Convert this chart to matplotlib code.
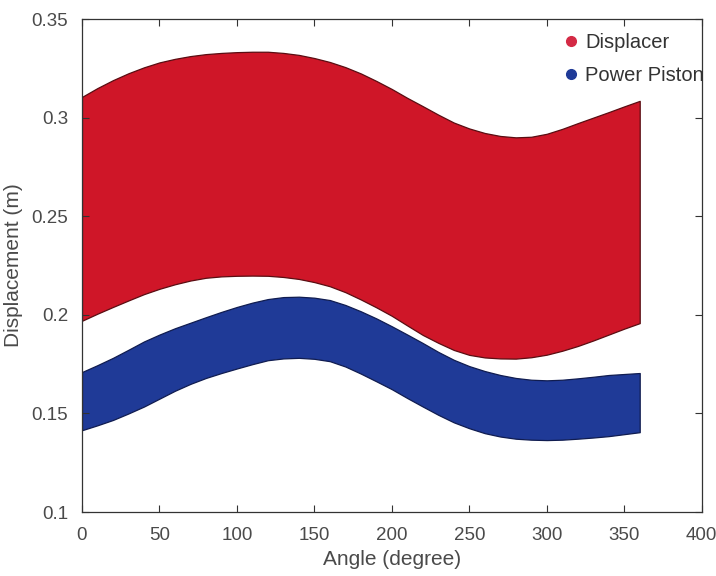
#Displacer and power piston displacement bands versus crank angle

import matplotlib.pyplot as plt
from matplotlib.lines import Line2D

plt.rcParams['font.family'] = ['Liberation Sans', 'DejaVu Sans']

angle = [0, 10, 20, 30, 40, 50, 60, 70, 80, 90, 100, 110, 120, 130, 140, 150, 160, 170, 180,
         190, 200, 210, 220, 230, 240, 250, 260, 270, 280, 290, 300, 310, 320, 330, 340, 350, 360]

#Displacer band (m)
displacerTop = [0.3105, 0.3150, 0.3190, 0.3225, 0.3255, 0.3280, 0.3298, 0.3312, 0.3322, 0.3328,
                0.3332, 0.3334, 0.3334, 0.3328, 0.3318, 0.3302, 0.3282, 0.3256, 0.3224,
                0.3186, 0.3145, 0.3100, 0.3058, 0.3015, 0.2975, 0.2945, 0.2922, 0.2907, 0.2900,
                0.2903, 0.2918, 0.2943, 0.2972, 0.3000, 0.3028, 0.3057, 0.3085]
displacerBottom = [0.1970, 0.2006, 0.2040, 0.2073, 0.2105, 0.2132, 0.2155, 0.2174, 0.2188, 0.2195,
                   0.2198, 0.2199, 0.2198, 0.2192, 0.2182, 0.2166, 0.2145, 0.2115, 0.2078,
                   0.2038, 0.1995, 0.1946, 0.1898, 0.1858, 0.1822, 0.1797, 0.1784, 0.1779, 0.1778,
                   0.1785, 0.1798, 0.1818, 0.1842, 0.1870, 0.1900, 0.1930, 0.1958]

#Power piston band (m)
pistonTop = [0.1710, 0.1745, 0.1782, 0.1823, 0.1865, 0.1900, 0.1932, 0.1960, 0.1988, 0.2015,
             0.2040, 0.2062, 0.2080, 0.2090, 0.2092, 0.2087, 0.2075, 0.2050, 0.2018,
             0.1982, 0.1942, 0.1900, 0.1857, 0.1812, 0.1772, 0.1740, 0.1715, 0.1695, 0.1680,
             0.1671, 0.1668, 0.1671, 0.1678, 0.1686, 0.1695, 0.1700, 0.1705]
pistonBottom = [0.1415, 0.1440, 0.1467, 0.1500, 0.1535, 0.1575, 0.1615, 0.1650, 0.1680, 0.1705,
                0.1728, 0.1750, 0.1770, 0.1779, 0.1782, 0.1777, 0.1765, 0.1738, 0.1702,
                0.1663, 0.1623, 0.1578, 0.1535, 0.1493, 0.1455, 0.1425, 0.1400, 0.1383, 0.1372,
                0.1367, 0.1365, 0.1367, 0.1372, 0.1378, 0.1385, 0.1395, 0.1405]

xTicks = [0, 50, 100, 150, 200, 250, 300, 350, 400]
yTicks = [0.1, 0.15, 0.2, 0.25, 0.3, 0.35]
yTickLabels = ['0.1', '0.15', '0.2', '0.25', '0.3', '0.35']
seriesNames = ['Displacer', 'Power Piston']

redFill = '#cf1628'
blueFill = '#1f3a97'
textColor = '#4a4a4a'

fig = plt.figure(figsize=(7.16, 5.76), dpi=100)
ax = fig.add_axes([0.1145, 0.111, 0.8655, 0.856])

ax.fill_between(angle, displacerBottom, displacerTop, facecolor=redFill,
                edgecolor='#5a0d12', linewidth=0.9)
ax.fill_between(angle, pistonBottom, pistonTop, facecolor=blueFill,
                edgecolor='#101c50', linewidth=0.9)

ax.set_xlim(0, 400)
ax.set_ylim(0.1, 0.35)
ax.set_xticks(xTicks)
ax.set_yticks(yTicks)
ax.set_yticklabels(yTickLabels)

ax.tick_params(direction='in', top=True, right=True, length=5, width=0.8,
               labelsize=13.5, labelcolor=textColor, color='#333333')
ax.tick_params(axis='x', pad=11)
ax.tick_params(axis='y', pad=10)
for spine in ax.spines.values():
    spine.set_color('#333333')
    spine.set_linewidth(0.9)

ax.set_xlabel('Angle (degree)', fontsize=15, color=textColor, labelpad=4)
ax.set_ylabel('Displacement (m)', fontsize=15, color=textColor, labelpad=6)

#Legend with round markers like the MATLAB output
handles = [Line2D([], [], marker='o', linestyle='none', markersize=7,
                  markerfacecolor='#d42a45', markeredgecolor='#d42a45'),
           Line2D([], [], marker='o', linestyle='none', markersize=7,
                  markerfacecolor='#1f3a97', markeredgecolor='#1f3a97')]
leg = ax.legend(handles, seriesNames, loc='upper left', bbox_to_anchor=(0.776, 0.972),
                frameon=False, fontsize=14.5, borderpad=0, borderaxespad=0,
                handlelength=0.8, handletextpad=0.3, labelspacing=0.7)
for t in leg.get_texts():
    t.set_color('#333333')

fig.savefig('out.png', dpi=100)
